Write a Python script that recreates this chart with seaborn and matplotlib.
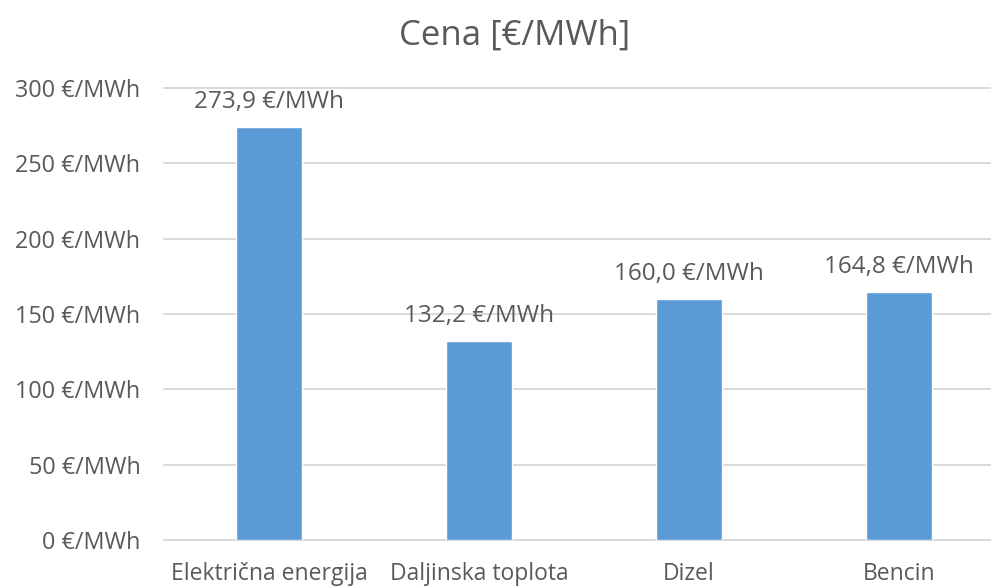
import matplotlib
matplotlib.use("Agg")
import matplotlib.pyplot as plt
import seaborn as sns
import pandas as pd

categories = ["Električna energija", "Daljinska toplota", "Dizel", "Bencin"]
prices = [273.9, 132.2, 160.0, 164.8]
y_ticks = [0, 50, 100, 150, 200, 250, 300]
title = "Cena [€/MWh]"

df = pd.DataFrame({"kategorija": categories, "cena": prices})

sns.set_theme(style="white")
plt.rcParams["font.family"] = ["Open Sans", "DejaVu Sans"]

text_color = "#595959"
bar_color = "#5B9BD5"
grid_color = "#D9D9D9"

fig = plt.figure(figsize=(9.91, 5.86), dpi=100)
ax = fig.add_axes([164 / 991, 46 / 586, 840 / 991, 452 / 586])

sns.barplot(data=df, x="kategorija", y="cena", color=bar_color,
            width=0.314, saturation=1, ax=ax, zorder=3)

ax.set_ylim(0, 300)
ax.set_xlim(-0.5, len(categories) - 0.5)
ax.set_yticks(y_ticks)
ax.set_yticklabels([f"{v} €/MWh" for v in y_ticks], color=text_color, fontsize=16.8)
ax.set_xticks(range(len(categories)))
ax.set_xticklabels(categories, color=text_color, fontsize=16.5)
ax.tick_params(axis="both", length=0)
ax.tick_params(axis="y", pad=17)
ax.tick_params(axis="x", pad=16)
ax.set_xlabel("")
ax.set_ylabel("")

for v in y_ticks:
    ax.axhline(v, color=grid_color, lw=1.4, zorder=1, clip_on=False)

for s in ax.spines.values():
    s.set_visible(False)

for i, v in enumerate(prices):
    label = f"{v:.1f}".replace(".", ",") + " €/MWh"
    ax.annotate(label, (i, v), xytext=(0, 18), textcoords="offset points",
                ha="center", va="center", color=text_color, fontsize=17.5)

fig.text(515 / 991, 1 - 36 / 586, title, ha="center", va="center",
         color=text_color, fontsize=25)

fig.savefig("out.png", dpi=100)
